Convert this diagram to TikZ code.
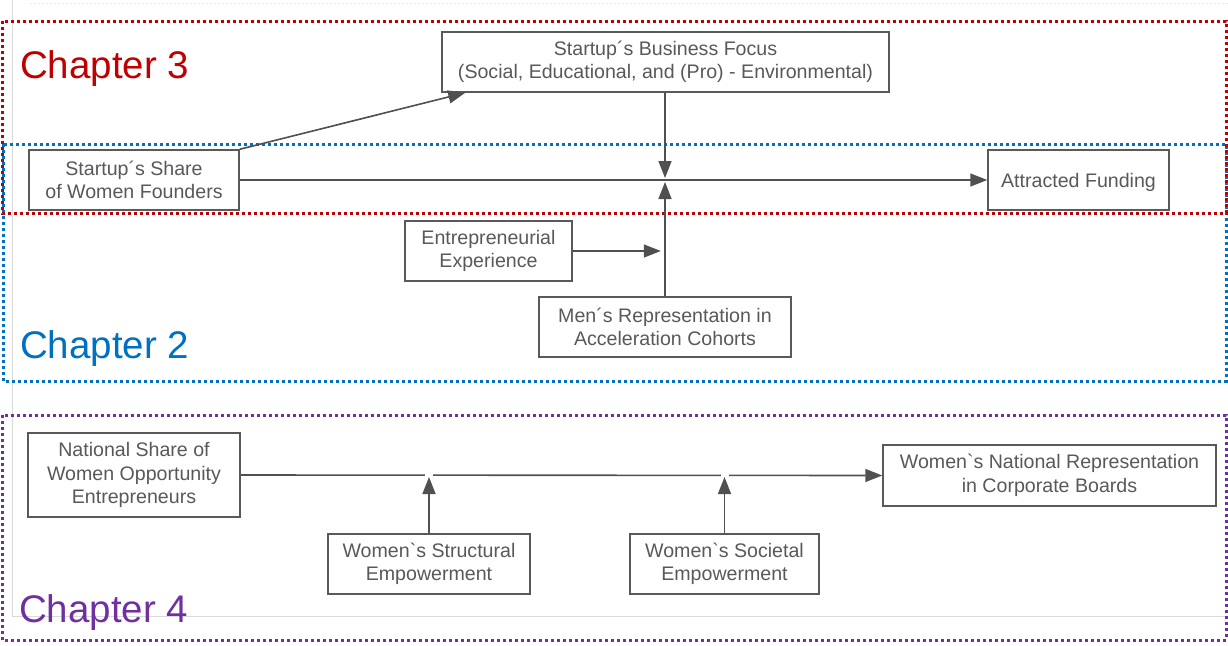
\documentclass[tikz,border=0pt]{standalone}
\usepackage{fontspec}
\setmainfont{Liberation Sans}[Ligatures=TeXOff]
\usetikzlibrary{arrows.meta,calc}
\definecolor{chred}{HTML}{C00000}
\definecolor{chblue}{HTML}{0070C0}
\definecolor{chpurple}{HTML}{7030A0}
\definecolor{txtgray}{HTML}{595959}
\definecolor{lngray}{HTML}{505050}
\definecolor{bggray}{HTML}{DADADA}
\tikzset{
  varbox/.style={draw=txtgray, line width=1.5pt, fill=white, text=txtgray, align=center,
    inner sep=0pt, font=\fontsize{19.6}{23.5}\selectfont},
  chapbox/.style={line width=3pt, dash pattern=on 3pt off 3pt},
  chaplabel/.style={anchor=base west, inner sep=0pt, font=\fontsize{38.5}{40}\selectfont},
  link/.style={draw=lngray, line width=1.6pt, -{Triangle[length=17pt,width=13pt]}},
}
\begin{document}
\begin{tikzpicture}[x=1pt,y=-1pt]
\useasboundingbox (0,0) rectangle (1228,645);
% faint slide edges
\draw[bggray, line width=0.8pt] (12,0) -- (12,616) -- (1228,616);
\draw[bggray!60, line width=0.6pt, dash pattern=on 2pt off 2pt] (30,3) -- (1228,3);
% chapter frames
\draw[chapbox, chblue] (3,144) rectangle (1226,381);
\draw[chapbox, chred] (2,21) rectangle (1226,213);
\draw[chapbox, chpurple] (2,415) rectangle (1226,640);
\node[chaplabel, text=chred] (c3) at (20,78) {Chapter 3};
\node[chaplabel, text=chblue] (c2) at (20,358) {Chapter 2};
\node[chaplabel, text=chpurple] (c4) at (19,622) {Chapter 4};
% nodes
\node[varbox, minimum width=447pt, minimum height=60pt] (bf) at (665.5,62)
  {Startup´s Business Focus\\(Social, Educational, and (Pro) - Environmental)};
\node[varbox, minimum width=210pt, minimum height=60pt] (sh) at (134,180)
  {Startup´s Share\\of Women Founders};
\node[varbox, minimum width=181pt, minimum height=60pt, text depth=0pt] (af) at (1078.5,180)
  {Attracted Funding};
\node[varbox, minimum width=167pt, minimum height=60pt] (ee) at (488.5,251)
  {Entrepreneurial\\Experience};
\node[varbox, minimum width=252pt, minimum height=60pt] (mr) at (665,327)
  {Men´s Representation in\\Acceleration Cohorts};
\node[varbox, minimum width=212pt, minimum height=84pt] (ns) at (134,475)
  {National Share of\\Women Opportunity\\Entrepreneurs};
\node[varbox, minimum width=202pt, minimum height=60pt] (se) at (429,564)
  {Women`s Structural\\Empowerment};
\node[varbox, minimum width=189pt, minimum height=60pt] (so) at (724.5,564)
  {Women`s Societal\\Empowerment};
\node[varbox, minimum width=333pt, minimum height=61pt] (cb) at (1049.5,475.5)
  {Women`s National Representation\\in Corporate Boards};
% junction points
\coordinate (m1) at (665,180);
\coordinate (m2) at (429,475);
\coordinate (m3) at (724.5,475);
% connectors
\draw[link] (sh.north east) -- ($(bf.south west)+(24,0)$);
\draw[link] (sh.east) -- (af.west);
\draw[link] (bf.south -| m1) -- ($(m1)+(0,-2)$);
\draw[link] (mr.north -| m1) -- ($(m1)+(0,2)$);
\draw[link] (ee.east) -- ($(ee.east)+(88,0)$);
\draw[link] (ns.east) -- (cb.west);
% small gaps in the line where the moderators meet it
\fill[white] ($(m2)+(-4,-2)$) rectangle ($(m2)+(4,2)$);
\fill[white] ($(m3)+(-4,-2)$) rectangle ($(m3)+(4,2)$);
\draw[link] (se.north) -- ($(m2)+(0,2)$);
\draw[link] (so.north) -- ($(m3)+(0,2)$);
\end{tikzpicture}
\end{document}
